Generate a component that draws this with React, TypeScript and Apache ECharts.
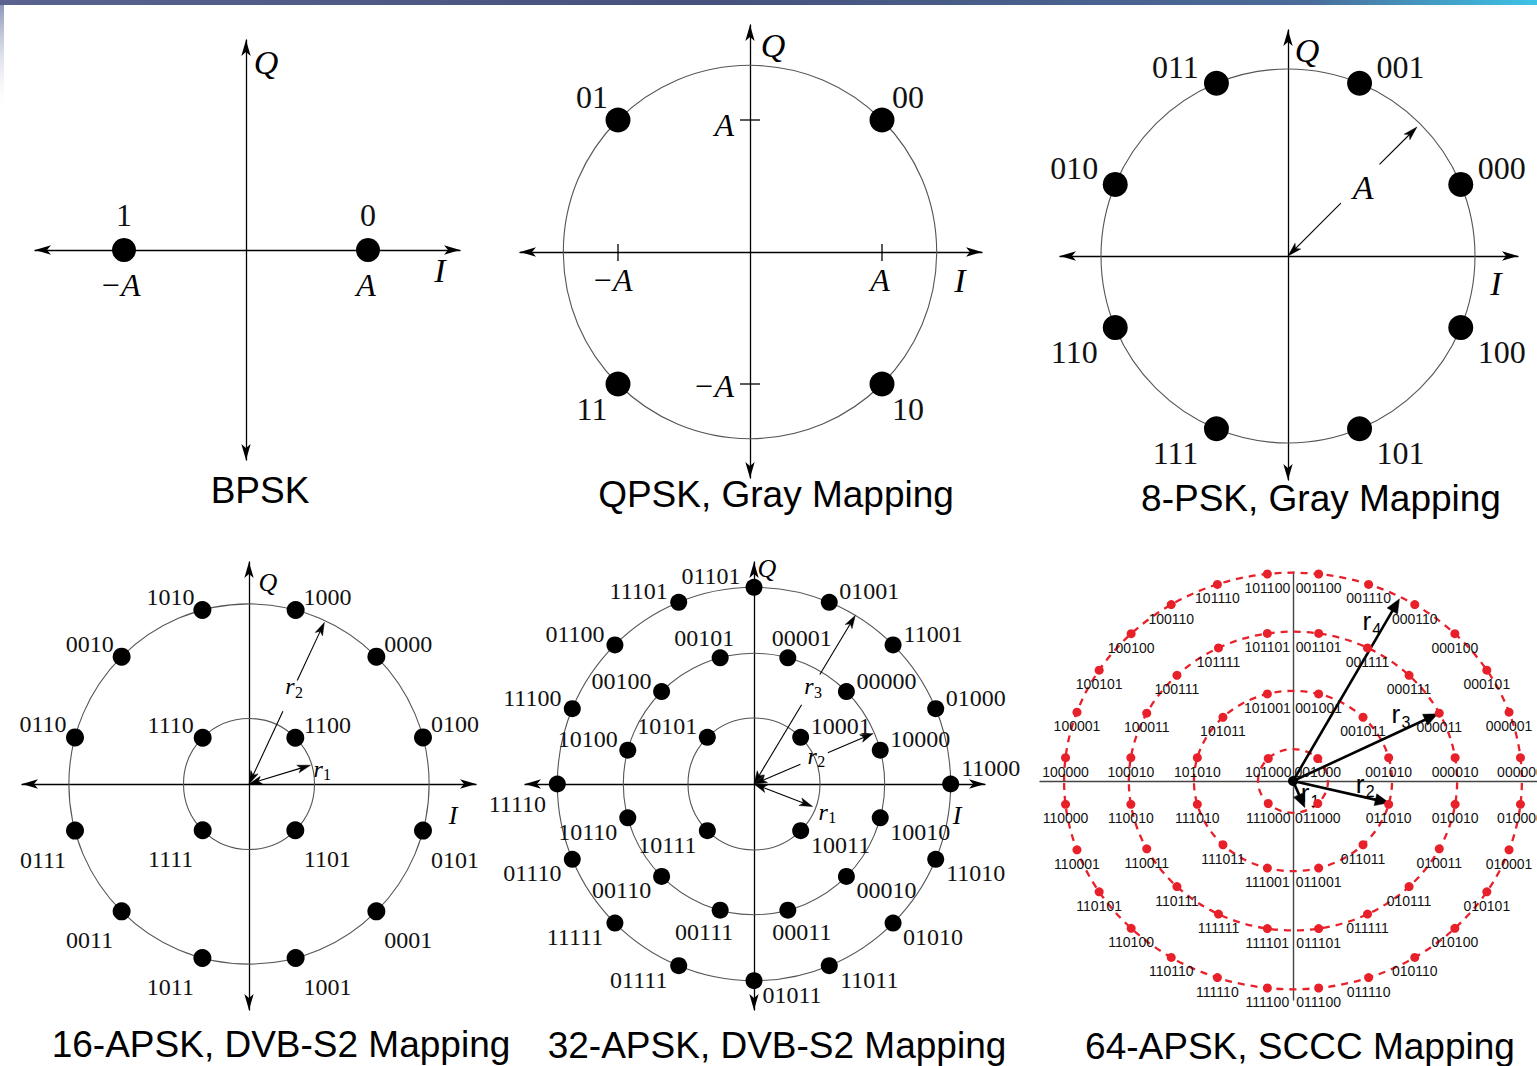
import React, { useEffect, useRef } from "react";
import * as echarts from "echarts";

// ================= DATA =================
// BPSK
const bpskI = [1, -1];
const bpskQ = [0, 0];
const bpskBits = ["0", "1"];
const bpskAxisLabels = ["A", "−A"];

// QPSK, Gray mapping
const qpskI = [1, -1, -1, 1];
const qpskQ = [1, 1, -1, -1];
const qpskBits = ["00", "01", "11", "10"];
const qpskRingRadius = [Math.SQRT2];
const qpskTickValues = [1, -1];
const qpskTickLabels = ["A", "−A"];

// 8-PSK, Gray mapping
const psk8Radius = [1];
const psk8Angles = [22.5, 67.5, 112.5, 157.5, 202.5, 247.5, 292.5, 337.5];
const psk8Bits = ["000", "001", "011", "010", "110", "111", "101", "100"];
const psk8ArrowAngle = 45;
const psk8ArrowFrac = 0.975;

// 16-APSK, DVB-S2
const apsk16Radii = [1, 2.75];
const apsk16Ring1Angles = [45, 135, 225, 315];
const apsk16Ring1Bits = ["1100", "1110", "1111", "1101"];
const apsk16Ring2Angles = [15, 45, 75, 105, 135, 165, 195, 225, 255, 285, 315, 345];
const apsk16Ring2Bits = ["0100", "0000", "1000", "1010", "0010", "0110", "0111", "0011", "1011", "1001", "0001", "0101"];
const apsk16ArrowAngles = [17, 65];
const apsk16ArrowFrac = [0.98, 0.99];

// 32-APSK, DVB-S2
const apsk32Radii = [1, 1.98, 2.98];
const apsk32Ring1Angles = [45, 135, 225, 315];
const apsk32Ring1Bits = ["10001", "10101", "10111", "10011"];
const apsk32Ring2Angles = [15, 45, 75, 105, 135, 165, 195, 225, 255, 285, 315, 345];
const apsk32Ring2Bits = ["10000", "00000", "00001", "00101", "00100", "10100", "10110", "00110", "00111", "00011", "00010", "10010"];
const apsk32Ring3Angles = [0, 22.5, 45, 67.5, 90, 112.5, 135, 157.5, 180, 202.5, 225, 247.5, 270, 292.5, 315, 337.5];
const apsk32Ring3Bits = ["11000", "01000", "11001", "01001", "01101", "11101", "01100", "11100", "11110", "01110", "11111", "01111", "01011", "11011", "01010", "11010"];
const apsk32ArrowAngles = [-21, 23, 59];
const apsk32ArrowFrac = [0.95, 0.99, 1.0];

// 64-APSK, SCCC
const apsk64Radii = [1, 2.83, 4.69, 6.54];
const apsk64Ring1Angles = [45, 135, 225, 315];
const apsk64Ring1Bits = ["001000", "101000", "111000", "011000"];
const apsk64Ring2Angles = [15, 45, 75, 105, 135, 165, 195, 225, 255, 285, 315, 345];
const apsk64Ring2Bits = ["001010", "001011", "001001", "101001", "101011", "101010", "111010", "111011", "111001", "011001", "011011", "011010"];
const apsk64Ring3Angles = [9, 27, 45, 63, 81, 99, 117, 135, 153, 171, 189, 207, 225, 243, 261, 279, 297, 315, 333, 351];
const apsk64Ring3Bits = ["000010", "000011", "000111", "001111", "001101", "101101", "101111", "100111", "100011", "100010", "110010", "110011", "110111", "111111", "111101", "011101", "011111", "010111", "010011", "010010"];
const apsk64Ring4Angles = [6.43, 19.29, 32.14, 45, 57.86, 70.71, 83.57, 96.43, 109.29, 122.14, 135, 147.86, 160.71, 173.57, 186.43, 199.29, 212.14, 225, 237.86, 250.71, 263.57, 276.43, 289.29, 302.14, 315, 327.86, 340.71, 353.57];
const apsk64Ring4Bits = ["000000", "000001", "000101", "000100", "000110", "001110", "001100", "101100", "101110", "100110", "100100", "100101", "100001", "100000", "110000", "110001", "110101", "110100", "110110", "111110", "111100", "011100", "011110", "010110", "010100", "010101", "010001", "010000"];
const apsk64ArrowAngles = [-68, -14, 27, 62];
const apsk64ArrowFrac = [0.9, 1.0, 0.99, 0.99];

const titles = ["BPSK", "QPSK, Gray Mapping", "8-PSK, Gray Mapping", "16-APSK, DVB-S2 Mapping", "32-APSK, DVB-S2 Mapping", "64-APSK, SCCC Mapping"];

// ================= STYLE / LAYOUT =================
const SERIF = '"Liberation Serif", "Times New Roman", serif';
const SANS = '"Liberation Sans", Arial, sans-serif';
const RED = "#e8202a";

const titlePos = [[260, 490], [776, 494], [1321, 498], [281, 1044], [777, 1045], [1300, 1046]];

const sgn = (v: number) => (v > 1e-6 ? 1 : v < -1e-6 ? -1 : 0);

function cartPoints(I: number[], Q: number[], bits: string[], rule: any) {
  return I.map((x, i) => ({ value: [x, Q[i]], name: bits[i], label: { offset: rule(x, Q[i], 0) } }));
}
function polarPoints(radii: number[], angleSets: number[][], bitSets: string[][], rule: any) {
  const out: any[] = [];
  radii.forEach((r, k) => {
    angleSets[k].forEach((a, j) => {
      const t = (a * Math.PI) / 180;
      const x = r * Math.cos(t);
      const y = r * Math.sin(t);
      out.push({ value: [x, y], name: bitSets[k][j], label: { offset: rule(x, y, k) } });
    });
  });
  return out;
}

const rules: any = {
  bpsk: () => [0, -35],
  qpsk: (x: number, y: number) => [sgn(x) * 26, y > 0 ? -23 : 25],
  psk8: (x: number, y: number) => [sgn(x) * 41, y > 0 ? -16 : 24],
  apsk16: (x: number, y: number) => [sgn(x) * 32, y > 0 ? -13 : 29],
  apsk32: (x: number, y: number, ring: number) => {
    const r = Math.hypot(x, y);
    const c = x / r;
    const s = y / r;
    if (ring === 1 && Math.abs(c) < 0.3) return [c > 0 ? 14 : -16, s > 0 ? -20 : 22];
    const dx = sgn(c) === 0 ? (s > 0 ? -43 : 38) : sgn(c) * 40;
    const dy = sgn(s) === 0 ? (c > 0 ? -16 : 20) : s > 0 ? -11 : 14;
    return [dx, dy];
  },
  apsk64: () => [0, 14],
};

function textEl(x: number, y: number, text: string, size: number, italic: boolean, family: string, align = "center") {
  return {
    type: "text",
    style: {
      text, x, y,
      fill: "#000",
      fontSize: size,
      fontFamily: family,
      fontStyle: italic ? "italic" : "normal",
      align, textAlign: align,
      verticalAlign: "middle", textVerticalAlign: "middle",
    },
    silent: true,
  };
}

function headEl(tx: number, ty: number, ux: number, uy: number, L: number, W: number, notch: number) {
  const nx = -uy, ny = ux;
  const bx = tx - ux * L, by = ty - uy * L;
  return {
    type: "polygon",
    shape: {
      points: [
        [tx, ty],
        [bx + nx * W, by + ny * W],
        [tx - ux * L * notch, ty - uy * L * notch],
        [bx - nx * W, by - ny * W],
      ],
    },
    style: { fill: "#000", stroke: "#000", lineWidth: 0.5 },
    silent: true,
  };
}

function makeRender(d: any) {
  return (_p: any, api: any) => {
    const c = api.coord([0, 0]);
    const kids: any[] = [];
    for (const r of d.rings) {
      const sz = api.size([r, r]);
      kids.push({
        type: "ellipse",
        shape: { cx: c[0], cy: c[1], rx: sz[0], ry: sz[1] },
        style: { fill: "none", stroke: d.ringStroke, lineWidth: d.ringWidth, lineDash: d.ringDash || null },
        silent: true,
      });
    }
    for (const t of d.ticks || []) {
      const p = api.coord([t.x, t.y]);
      const shape = t.dir === "v"
        ? { x1: p[0], y1: p[1] - 8, x2: p[0], y2: p[1] + 9 }
        : { x1: p[0] - 10, y1: p[1], x2: p[0] + 10, y2: p[1] };
      kids.push({ type: "line", shape, style: { stroke: "#000", lineWidth: 1.3 }, silent: true });
    }
    for (const a of d.arrows || []) {
      const rad = (a.angle * Math.PI) / 180;
      const tip = api.coord([a.len * Math.cos(rad), a.len * Math.sin(rad)]);
      const vx = tip[0] - c[0], vy = tip[1] - c[1];
      const L = Math.hypot(vx, vy);
      const ux = vx / L, uy = vy / L;
      const segs = a.gap ? [[0, a.gap[0]], [a.gap[1], 1]] : [[0, 1]];
      for (const [s0, s1] of segs) {
        let d0 = s0 * L, d1 = s1 * L;
        if (s0 === 0 && a.both) d0 += a.headL * 0.7;
        if (s1 === 1) d1 -= a.headL * 0.7;
        kids.push({
          type: "line",
          shape: { x1: c[0] + ux * d0, y1: c[1] + uy * d0, x2: c[0] + ux * d1, y2: c[1] + uy * d1 },
          style: { stroke: "#000", lineWidth: a.width },
          silent: true,
        });
      }
      kids.push(headEl(tip[0], tip[1], ux, uy, a.headL, a.headW, a.notch));
      if (a.both) kids.push(headEl(c[0], c[1], -ux, -uy, a.headL, a.headW, a.notch));
      if (a.label) {
        const lr = (a.label.angle * Math.PI) / 180;
        const p = api.coord([a.label.dist * Math.cos(lr), a.label.dist * Math.sin(lr)]);
        kids.push(textEl(p[0], p[1], a.label.text, a.label.size, a.label.italic, a.label.family));
        if (a.label.sub) {
          kids.push(textEl(p[0] + a.label.subOff[0], p[1] + a.label.subOff[1], a.label.sub, a.label.subSize, false, a.label.family));
        }
      }
    }
    if (d.hub) kids.push({ type: "circle", shape: { cx: c[0], cy: c[1], r: d.hub }, style: { fill: "#000" }, silent: true });
    for (const t of d.texts || []) {
      const p = api.coord([t.x || 0, t.y || 0]);
      kids.push(textEl(p[0] + t.dx, p[1] + t.dy, t.text, t.size, t.italic, t.family || SERIF, t.align || "center"));
    }
    return { type: "group", children: kids };
  };
}

function serifArrow(angle: number, len: number, gap: any, label: any) {
  return { angle, len, gap, both: true, width: 1.1, headL: 13, headW: 4, notch: 0.75, label };
}
function rLabel(sub: string, angle: number, dist: number, family = SERIF, italic = true, size = 24, subSize = 16, subOff = [9, 6]) {
  return { text: "r", sub, angle, dist, family, italic, size, subSize, subOff };
}

// ================= PANELS =================
const panels: any[] = [
  {
    cx: 246, cy: 250, scale: 122, yRatio: 1, tips: [211, 214, 210, 210], arrows: true,
    points: cartPoints(bpskI, bpskQ, bpskBits, rules.bpsk),
    symbolSize: 24, color: "#000", font: SERIF, fontSize: 32,
    decor: {
      rings: [], ringStroke: "#555", ringWidth: 1.1,
      texts: [
        { dx: 20, dy: -188, text: "Q", size: 34, italic: true },
        { dx: 194, dy: 20, text: "I", size: 34, italic: true },
        ...bpskI.map((x, i) => ({ x, y: 0, dx: x > 0 ? -2 : -4, dy: 35, text: bpskAxisLabels[i], size: 32, italic: true })),
      ],
    },
  },
  {
    cx: 750, cy: 252, scale: 132, yRatio: 1, tips: [230, 232, 227, 226], arrows: true,
    points: cartPoints(qpskI, qpskQ, qpskBits, rules.qpsk),
    symbolSize: 25, color: "#000", font: SERIF, fontSize: 32,
    decor: {
      rings: qpskRingRadius, ringStroke: "#555", ringWidth: 1.1,
      ticks: [
        ...qpskTickValues.map((v) => ({ x: v, y: 0, dir: "v" })),
        ...qpskTickValues.map((v) => ({ x: 0, y: v, dir: "h" })),
      ],
      texts: [
        { dx: 23, dy: -207, text: "Q", size: 34, italic: true },
        { dx: 210, dy: 28, text: "I", size: 34, italic: true },
        ...qpskTickValues.map((v, i) => ({ x: v, y: 0, dx: v > 0 ? -2 : -6, dy: 28, text: qpskTickLabels[i], size: 32, italic: true })),
        ...qpskTickValues.map((v, i) => ({ x: 0, y: v, dx: -16, dy: v > 0 ? 5 : 2, text: qpskTickLabels[i], size: 32, italic: true, align: "right" })),
      ],
    },
  },
  {
    cx: 1288, cy: 256, scale: 187, yRatio: 1, tips: [228, 230, 226, 224], arrows: true,
    points: polarPoints(psk8Radius, [psk8Angles], [psk8Bits], rules.psk8),
    symbolSize: 25, color: "#000", font: SERIF, fontSize: 32,
    decor: {
      rings: psk8Radius, ringStroke: "#555", ringWidth: 1.1,
      arrows: [
        { ...serifArrow(psk8ArrowAngle, psk8Radius[0] * psk8ArrowFrac, [0.41, 0.71], { text: "A", angle: 42.6, dist: 0.545, family: SERIF, italic: true, size: 34 }), headL: 14 },
      ],
      texts: [
        { dx: 19, dy: -206, text: "Q", size: 34, italic: true },
        { dx: 208, dy: 27, text: "I", size: 34, italic: true },
      ],
    },
  },
  {
    cx: 249, cy: 784, scale: 65.5, yRatio: 1, tips: [227, 227, 222, 226], arrows: true,
    points: polarPoints(apsk16Radii, [apsk16Ring1Angles, apsk16Ring2Angles], [apsk16Ring1Bits, apsk16Ring2Bits], rules.apsk16),
    symbolSize: 18, color: "#000", font: SERIF, fontSize: 24,
    decor: {
      rings: apsk16Radii, ringStroke: "#555", ringWidth: 1.1,
      arrows: [
        serifArrow(apsk16ArrowAngles[0], apsk16Radii[0] * apsk16ArrowFrac[0], null, rLabel("1", 12.3, 1.08)),
        serifArrow(apsk16ArrowAngles[1], apsk16Radii[1] * apsk16ArrowFrac[1], [0.45, 0.64], rLabel("2", 67.3, 1.62)),
      ],
      texts: [
        { dx: 19, dy: -202, text: "Q", size: 26, italic: true },
        { dx: 204, dy: 31, text: "I", size: 26, italic: true },
      ],
    },
  },
  {
    cx: 754, cy: 784, scale: 66, yRatio: 1, tips: [229, 231, 222, 226], arrows: true,
    points: polarPoints(apsk32Radii, [apsk32Ring1Angles, apsk32Ring2Angles, apsk32Ring3Angles], [apsk32Ring1Bits, apsk32Ring2Bits, apsk32Ring3Bits], rules.apsk32),
    symbolSize: 17, color: "#000", font: SERIF, fontSize: 24,
    decor: {
      rings: apsk32Radii, ringStroke: "#555", ringWidth: 1.1,
      arrows: [
        serifArrow(apsk32ArrowAngles[0], apsk32Radii[0] * apsk32ArrowFrac[0], null, rLabel("1", -22, 1.13)),
        serifArrow(apsk32ArrowAngles[1], apsk32Radii[1] * apsk32ArrowFrac[1], [0.39, 0.62], rLabel("2", 25.8, 0.98)),
        serifArrow(apsk32ArrowAngles[2], apsk32Radii[2] * apsk32ArrowFrac[2], [0.47, 0.65], rLabel("3", 60.7, 1.7)),
      ],
      texts: [
        { dx: 13, dy: -216, text: "Q", size: 26, italic: true },
        { dx: 203, dy: 31, text: "I", size: 26, italic: true },
      ],
    },
  },
  {
    cx: 1293, cy: 781, scale: 35, yRatio: 0.91, tips: [253, 250, 209, 219], arrows: false,
    points: polarPoints(apsk64Radii, [apsk64Ring1Angles, apsk64Ring2Angles, apsk64Ring3Angles, apsk64Ring4Angles], [apsk64Ring1Bits, apsk64Ring2Bits, apsk64Ring3Bits, apsk64Ring4Bits], rules.apsk64),
    symbolSize: 9, color: RED, font: SANS, fontSize: 14,
    decor: {
      rings: apsk64Radii, ringStroke: RED, ringWidth: 2.3, ringDash: [7, 6],
      hub: 5,
      arrows: apsk64ArrowAngles.map((a, i) => ({
        angle: a, len: apsk64Radii[i] * apsk64ArrowFrac[i], gap: null, both: false,
        width: 2.6, headL: 14, headW: 6, notch: 1,
        label: rLabel(String(i + 1), [-47.9, -2.8, 35.5, 67.2][i], [0.51, 1.92, 3.61, 5.44][i], SANS, false, 26, 16, [10, 8]),
      })),
      texts: [],
    },
  },
];

function buildOption() {
  const grid: any[] = [];
  const xAxis: any[] = [];
  const yAxis: any[] = [];
  const series: any[] = [];
  panels.forEach((p, i) => {
    const [tl, tr, tu, td] = p.tips;
    const sy = p.scale * p.yRatio;
    grid.push({
      left: p.cx - tl, top: p.cy - tu, width: tl + tr, height: tu + td,
      containLabel: false, outerBoundsMode: "none", show: false,
    });
    const axisLine = {
      show: true, onZero: true,
      symbol: p.arrows ? ["arrow", "arrow"] : "none",
      symbolSize: [7, 16],
      lineStyle: { color: p.arrows ? "#000" : "#444", width: p.arrows ? 1.3 : 1.4 },
    };
    const common = { type: "value", gridIndex: i, axisLine, axisTick: { show: false }, axisLabel: { show: false }, splitLine: { show: false } };
    xAxis.push({ ...common, min: -tl / p.scale, max: tr / p.scale });
    yAxis.push({ ...common, min: -td / sy, max: tu / sy });
    series.push({
      type: "custom", xAxisIndex: i, yAxisIndex: i, data: [[0, 0]], z: 2, silent: true,
      renderItem: makeRender(p.decor),
    });
    series.push({
      type: "scatter", xAxisIndex: i, yAxisIndex: i, z: 5, silent: true,
      symbol: "circle", symbolSize: p.symbolSize,
      itemStyle: { color: p.color, opacity: 1 },
      emphasis: { disabled: true },
      label: {
        show: true, position: "inside", formatter: "{b}",
        color: "#111", fontFamily: p.font, fontSize: p.fontSize,
        textBorderWidth: 0,
      },
      data: p.points,
    });
  });

  const graphic: any[] = [
    {
      type: "rect", silent: true,
      shape: { x: 0, y: 0, width: 1537, height: 5 },
      style: {
        fill: new echarts.graphic.LinearGradient(0, 0, 1, 0, [
          { offset: 0, color: "#5a6390" },
          { offset: 0.45, color: "#46517c" },
          { offset: 0.85, color: "#4b6b98" },
          { offset: 1, color: "#3cc3e6" },
        ]),
      },
    },
    {
      type: "rect", silent: true,
      shape: { x: 0, y: 5, width: 4, height: 110 },
      style: {
        fill: new echarts.graphic.LinearGradient(0, 0, 0, 1, [
          { offset: 0, color: "#8c97b8" },
          { offset: 1, color: "rgba(255,255,255,0)" },
        ]),
      },
    },
    ...titles.map((t, i) => ({
      type: "text", silent: true, x: titlePos[i][0], y: titlePos[i][1],
      style: {
        text: t, fill: "#000", fontSize: 37, fontFamily: SANS,
        align: "center", textAlign: "center", verticalAlign: "middle", textVerticalAlign: "middle",
      },
    })),
  ];

  return { animation: false, backgroundColor: "#fff", grid, xAxis, yAxis, series, graphic };
}

export default function App() {
  const ref = useRef<HTMLDivElement>(null);
  useEffect(() => {
    document.body.style.margin = "0";
    const chart = echarts.init(ref.current!, undefined, { renderer: "svg" });
    chart.setOption(buildOption() as any);
    return () => chart.dispose();
  }, []);
  return <div ref={ref} style={{ width: 1537, height: 1066, background: "#fff" }} />;
}
